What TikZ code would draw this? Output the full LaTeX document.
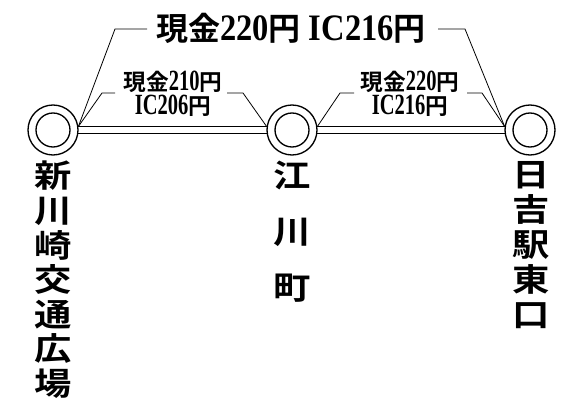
\documentclass[tikz,border=0pt]{standalone}
\usepackage{fontspec}
\setmainfont{Liberation Serif}
\newfontfamily\cjk{Noto Sans CJK JP}[UprightFont={* Bold}]
\newcommand\kjt[1]{{\cjk #1}}
\newcommand\latbig[1]{\scalebox{0.87}[1]{\fontsize{28}{28}\selectfont\bfseries #1}}
\newcommand\latsm[1]{\scalebox{0.7}[1]{\fontsize{22}{22}\selectfont\bfseries #1}}
\newcommand\vch[1]{\scalebox{1}[0.85]{#1}}
\newcommand\nodepth[1]{\raisebox{0pt}[\height][0pt]{#1}}
\begin{document}
\begin{tikzpicture}[x=0.75pt,y=-0.75pt,
  station/.style={circle,draw,line width=1pt,minimum size=50*0.75pt,inner sep=0pt,
    path picture={\draw[line width=1pt] (path picture bounding box.center) circle[radius=17*0.75pt];}},
  rail/.style={line width=0.9pt},
  leader/.style={line width=0.6pt},
  bigfare/.style={font=\fontsize{24}{26}\selectfont,inner sep=0pt,anchor=base},
  smallfare/.style={font=\fontsize{17}{17}\selectfont,inner sep=0pt,anchor=base},
  stname/.style={anchor=north,align=center,inner sep=0pt,font=\cjk\fontsize{28}{25.9}\selectfont},
]
\useasboundingbox (0,0) rectangle (588,402);
% stations
\node[station] (s1) at (53,130) {};
\node[station] (s2) at (292,130) {};
\node[station] (s3) at (530,130) {};
% rails
\draw[rail] (s1.8) -- (s2.172);
\draw[rail] (s1.-8) -- (s2.-172);
\draw[rail] (s2.8) -- (s3.172);
\draw[rail] (s2.-8) -- (s3.-172);
% fare labels
\node[bigfare] (t) at (291,41) {\kjt{現金}\latbig{220}\kjt{円} \latbig{IC216}\kjt{円}};
\node[smallfare] (l1a) at (173,91) {\nodepth{\kjt{現金}\latsm{210}\kjt{円}}};
\node[smallfare] (l1b) at (173,114.5) {\latsm{IC206}\kjt{円}};
\node[smallfare] (l2a) at (410,91) {\nodepth{\kjt{現金}\latsm{220}\kjt{円}}};
\node[smallfare] (l2b) at (410,114.5) {\latsm{IC216}\kjt{円}};
% leader coordinates
\coordinate (ta) at (115,29);
\coordinate (tb) at (147,29);
\coordinate (tc) at (438,29);
\coordinate (td) at (465,29);
\coordinate (aa) at (102,93);
\coordinate (ab) at (115,93);
\coordinate (ac) at (227,93);
\coordinate (ad) at (243,93);
\coordinate (ba) at (340,93);
\coordinate (bb) at (354,93);
\coordinate (bc) at (467,93);
\coordinate (bd) at (482,93);
% leaders
\draw[leader] (s1.8) -- (ta) -- (tb);
\draw[leader] (tc) -- (td) -- (s3.172);
\draw[leader] (s1.8) -- (aa) -- (ab);
\draw[leader] (ac) -- (ad) -- (s2.172);
\draw[leader] (s2.8) -- (ba) -- (bb);
\draw[leader] (bc) -- (bd) -- (s3.172);
% station names
\node[stname] (n1) at (53,161) {\vch{新}\\\vch{川}\\\vch{崎}\\\vch{交}\\\vch{通}\\\vch{広}\\\vch{場}};
\node[stname,font=\cjk\fontsize{28}{42}\selectfont] (n2) at (292,161) {\vch{江}\\\vch{川}\\\vch{町}};
\node[stname,font=\cjk\fontsize{28}{26.25}\selectfont] (n3) at (531,161) {\vch{日}\\\vch{吉}\\\vch{駅}\\\vch{東}\\\vch{口}};
\end{tikzpicture}
\end{document}
